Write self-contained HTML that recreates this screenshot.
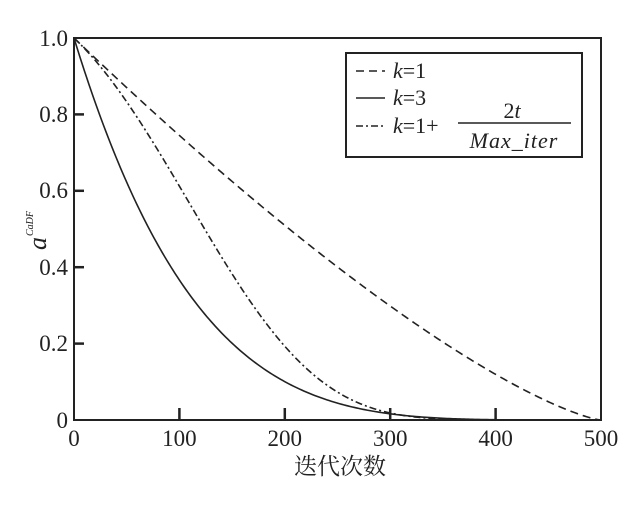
<!DOCTYPE html>
<html><head><meta charset="utf-8"><style>
body{margin:0;background:#fff;}
svg, svg text{font-family:"Liberation Serif","DejaVu Serif","Noto Serif CJK SC",serif !important;}
</style></head><body>
<svg id="s" width="640" height="505" xmlns="http://www.w3.org/2000/svg" fill="#222" style="font-family:'Liberation Serif','DejaVu Serif',serif">
<rect x="74" y="38" width="527" height="382" fill="none" stroke="#222" stroke-width="2"/>
<g stroke="#222" stroke-width="2.5">
<line x1="74" y1="343.6" x2="84" y2="343.6"/><line x1="74" y1="267.2" x2="84" y2="267.2"/><line x1="74" y1="190.8" x2="84" y2="190.8"/><line x1="74" y1="114.4" x2="84" y2="114.4"/>
<line x1="179.4" y1="420" x2="179.4" y2="408"/><line x1="284.8" y1="420" x2="284.8" y2="408"/><line x1="390.2" y1="420" x2="390.2" y2="408"/><line x1="495.6" y1="420" x2="495.6" y2="408"/>
</g>
<g font-size="23" text-anchor="end">
<text x="68" y="46">1.0</text><text x="68" y="122">0.8</text><text x="68" y="198">0.6</text><text x="68" y="275">0.4</text><text x="68" y="351">0.2</text><text x="68" y="428">0</text>
</g>
<g font-size="23" text-anchor="middle">
<text x="74" y="446">0</text><text x="179.4" y="446">100</text><text x="284.8" y="446">200</text><text x="390.2" y="446">300</text><text x="495.6" y="446">400</text><text x="601" y="446">500</text>
</g>
<text x="340" y="474" font-size="23" text-anchor="middle" style="font-family:'Noto Serif CJK SC',serif !important">迭代次数</text>
<g transform="translate(46,250) rotate(-90)">
<text x="0" y="0" font-size="26" font-style="italic">a</text>
<text x="14" y="-13" font-size="10" font-style="italic">CaDF</text>
</g>
<g id="curves" fill="none" stroke="#222" stroke-width="1.6"></g>
<rect x="346" y="53" width="236" height="104" fill="#fff" stroke="#222" stroke-width="2"/>
<g stroke="#222" stroke-width="1.6">
<line x1="356" y1="71" x2="385" y2="71" stroke-dasharray="8,5"/>
<line x1="356" y1="98" x2="385" y2="98"/>
<line x1="356" y1="126" x2="385" y2="126" stroke-dasharray="7,3,2,3"/>
<line x1="458" y1="123" x2="571" y2="123"/>
</g>
<g font-size="22">
<text x="393" y="78"><tspan font-style="italic">k</tspan>=1</text>
<text x="393" y="105"><tspan font-style="italic">k</tspan>=3</text>
<text x="393" y="133"><tspan font-style="italic">k</tspan>=1+</text>
<text x="512" y="118" text-anchor="middle">2<tspan font-style="italic">t</tspan></text>
<text x="514" y="148" text-anchor="middle" font-style="italic" letter-spacing="1">Max_iter</text>
</g>
</svg>
<script>
var g=document.getElementById('curves');
function X(t){return 74+t*527/500;}function Y(a){return 420-a*382;}
function mk(f,dash){var d='';for(var t=0;t<=500;t+=2){var u=t/500;d+=(t?'L':'M')+X(t).toFixed(2)+' '+Y(f(u)).toFixed(2);}
var p=document.createElementNS('http://www.w3.org/2000/svg','path');p.setAttribute('d',d);if(dash)p.setAttribute('stroke-dasharray',dash);g.appendChild(p);}
mk(function(u){return Math.pow(1-u,1.32);},'8,5');
mk(function(u){return Math.pow(1-u,4.5);},null);
mk(function(u){return Math.pow(1-u,1.3+4.2*u+1.5*u*u);},'7,3,2,3');
</script>
</body></html>
